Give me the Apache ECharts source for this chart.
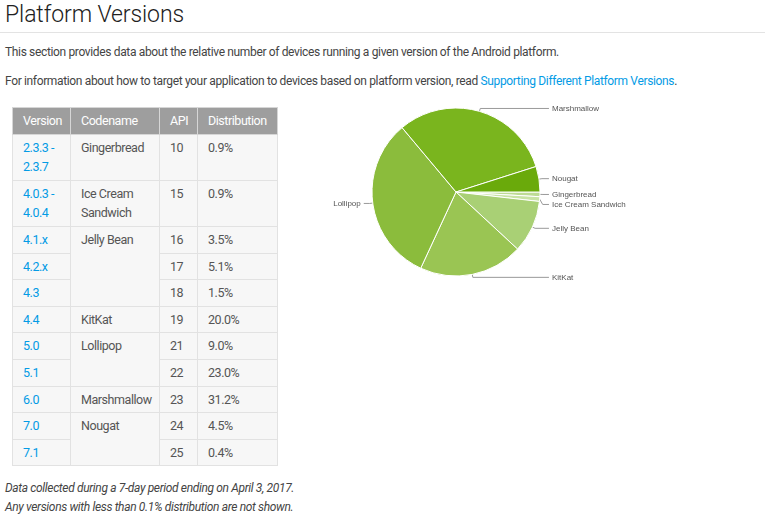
<!DOCTYPE html>
<html>
<head>
<meta charset="utf-8">
<script src="https://cdn.jsdelivr.net/npm/echarts@6/dist/echarts.min.js"></script>
<style>
  html, body { margin: 0; padding: 0; background: #fff; }
  body { width: 782px; height: 517px; position: relative; overflow: hidden;
         font-family: Roboto, sans-serif; color: #444; font-size: 12px; letter-spacing: -0.35px; }
  h1 { position: absolute; left: 5px; top: 0; margin: 0; font-weight: 300;
       font-size: 23px; line-height: 30px; color: #212121; letter-spacing: -0.1px; }
  .rule { position: absolute; left: 0; top: 32px; width: 765px; height: 1px; background: #e3e3e3; }
  p { position: absolute; left: 5px; margin: 0; line-height: 18px; white-space: nowrap; }
  a { color: #039be5; text-decoration: none; }
  table { position: absolute; left: 12px; top: 107px; border-collapse: collapse;
          table-layout: fixed; width: 265px; }
  th, td { border: 1px solid #e2e2e2; padding: 3px 10px; line-height: 19.6px;
           text-align: left; vertical-align: top; font-size: 12.5px; letter-spacing: -0.45px; }
  th { background: #9e9e9e; color: #fff; font-weight: 400; border-color: #d6d6d6; }
  td { background: #f7f7f7; color: #555; }
  .note { font-style: italic; color: #444; }
  #chart { position: absolute; left: 290px; top: 95px; width: 480px; height: 200px; letter-spacing: 0; }
</style>
</head>
<body>
<h1>Platform Versions</h1>
<div class="rule"></div>
<p style="top:43px">This section provides data about the relative number of devices running a given version of the Android platform.</p>
<p style="top:72px">For information about how to target your application to devices based on platform version, read <a href="#">Supporting Different Platform Versions</a>.</p>

<table id="versions">
  <colgroup><col style="width:58px"><col style="width:89px"><col style="width:38px"><col style="width:80px"></colgroup>
  <thead><tr><th>Version</th><th>Codename</th><th>API</th><th>Distribution</th></tr></thead>
  <tbody></tbody>
</table>

<p class="note" style="top:479px">Data collected during a 7-day period ending on April 3, 2017.</p>
<p class="note" style="top:498px">Any versions with less than 0.1% distribution are not shown.</p>

<div id="chart"></div>

<script>
// table rows
const versions = ['2.3.3 -<br>2.3.7', '4.0.3 -<br>4.0.4', '4.1.x', '4.2.x', '4.3', '4.4', '5.0', '5.1', '6.0', '7.0', '7.1'];
const codenames = ['Gingerbread', 'Ice Cream<br>Sandwich', 'Jelly Bean', '', '', 'KitKat', 'Lollipop', '', 'Marshmallow', 'Nougat', ''];
const codenameSpan = [1, 1, 3, 0, 0, 1, 2, 0, 1, 2, 0];
const apiLevels = [10, 15, 16, 17, 18, 19, 21, 22, 23, 24, 25];
const distribution = [0.9, 0.9, 3.5, 5.1, 1.5, 20.0, 9.0, 23.0, 31.2, 4.5, 0.4];

// pie slices (clockwise from 3 o'clock)
const pieNames = ['Gingerbread', 'Ice Cream Sandwich', 'Jelly Bean', 'KitKat', 'Lollipop', 'Marshmallow', 'Nougat'];
const pieValues = [0.9, 0.9, 10.1, 20.0, 32.0, 31.2, 4.9];
const pieColors = ['#bddb94', '#c8e3a4', '#a9d075', '#9ac553', '#8bbc3c', '#7ab51e', '#6aaa0b'];

const tbody = document.querySelector('#versions tbody');
versions.forEach((v, i) => {
  let html = '<td><a href="#">' + v + '</a></td>';
  if (codenameSpan[i]) html += '<td rowspan="' + codenameSpan[i] + '">' + codenames[i] + '</td>';
  html += '<td>' + apiLevels[i] + '</td><td>' + distribution[i].toFixed(1) + '%</td>';
  const tr = document.createElement('tr');
  tr.innerHTML = html;
  tbody.appendChild(tr);
});

const chart = echarts.init(document.getElementById('chart'));
chart.setOption({
  animation: false,
  series: [{
    type: 'pie',
    center: [166, 97],
    radius: 84,
    startAngle: 0,
    clockwise: true,
    avoidLabelOverlap: true,
    itemStyle: { borderColor: '#fff', borderWidth: 1 },
    label: {
      formatter: '{b}',
      fontFamily: 'Liberation Sans, Arial, sans-serif',
      fontSize: 8,
      color: '#555',
      alignTo: 'labelLine',
      distanceToLabelLine: 3
    },
    labelLine: { length: 3, length2: 6, lineStyle: { color: '#999', width: 1 } },
    emphasis: { disabled: true },
    data: pieNames.map((n, i) => ({ name: n, value: pieValues[i], itemStyle: { color: pieColors[i] } }))
  }]
});
</script>
</body>
</html>
